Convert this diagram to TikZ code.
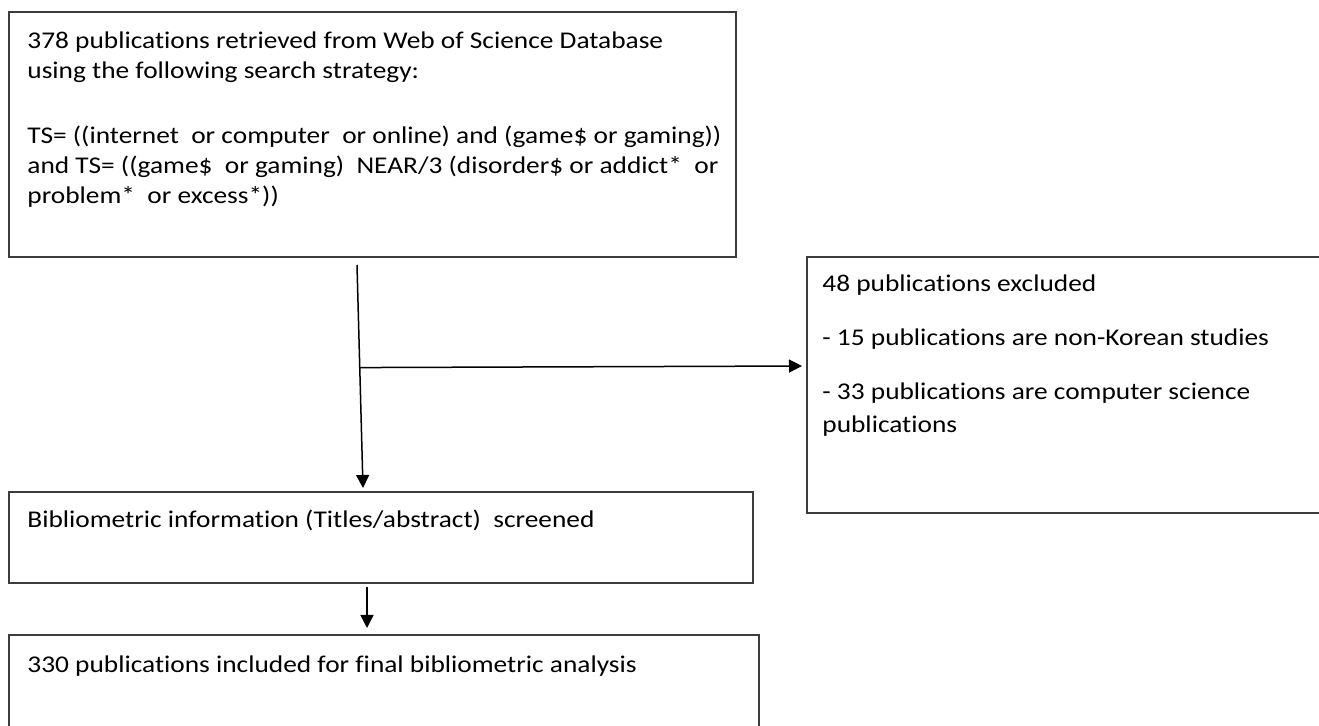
\documentclass[tikz,border=0pt]{standalone}
\usepackage{fontspec}
\setmainfont{Carlito}[FakeStretch=1.14,Ligatures=NoCommon]
\usetikzlibrary{arrows.meta,positioning,calc}
\definecolor{Frame}{HTML}{3C3C3C}
\tikzset{
  flowbox/.style={draw=Frame,line width=1pt,inner sep=0pt,outer sep=0pt,anchor=north west},
  flowtext/.style={anchor=north west,inner sep=0pt,align=left,text=black,font=\fontsize{12}{15}\selectfont},
  flowarrow/.style={draw=black,line width=0.75pt,-{Triangle[length=6.5pt,width=6.5pt]}}
}

\begin{document}
\begin{tikzpicture}[x=0.5pt,y=-0.5pt]
\useasboundingbox (0,0) rectangle (1319,726);
% boxes
\node[flowbox,minimum width=363.5pt,minimum height=122.5pt] (search) at (9,12) {};
\node[flowbox,minimum width=270pt,minimum height=128pt] (excl) at (807,257) {};
\node[flowbox,minimum width=372pt,minimum height=45.5pt] (screen) at (9,492) {};
\node[flowbox,minimum width=375pt,minimum height=70pt] (final) at (9,635) {};
% texts
\node[flowtext] (searchtext) at (27,31) {378 publications retrieved from Web of Science Database\\
  using the following search strategy:\\[17.5pt]
  TS= ((internet\ \ or computer\ \ or online) and (game\$ or gaming))\\
  and TS= ((game\$\ \ or gaming)\ \ NEAR/3 (disorder\$ or addict*\ \ or\\
  problem*\ \ or excess*))};
\node[flowtext,font=\fontsize{12}{16.5}\selectfont] (excltext) at (822,274) {48 publications excluded\\[10.5pt]
  - 15 publications are non-Korean studies\\[10.5pt]
  - 33 publications are computer science\\
  publications};
\node[flowtext] (screentext) at (27,510) {Bibliometric information (Titles/abstract)\ \ screened};
\node[flowtext] (finaltext) at (27,655) {330 publications included for final bibliometric analysis};
% connectors
\coordinate (drop) at ($(search.south west)+(348,8)$);
\coordinate (land) at ($(screen.north west)+(354,-4)$);
\coordinate (split) at ($(drop)!0.46!(land)$);
\draw[flowarrow] (drop) -- (land);
\draw[flowarrow,shorten >=2.5pt] (split) -- ($(excl.north west)+(0,109)$);
\draw[flowarrow] ($(screen.south west)+(358,4)$) -- ($(final.north west)+(358,-7)$);
\end{tikzpicture}
\end{document}
